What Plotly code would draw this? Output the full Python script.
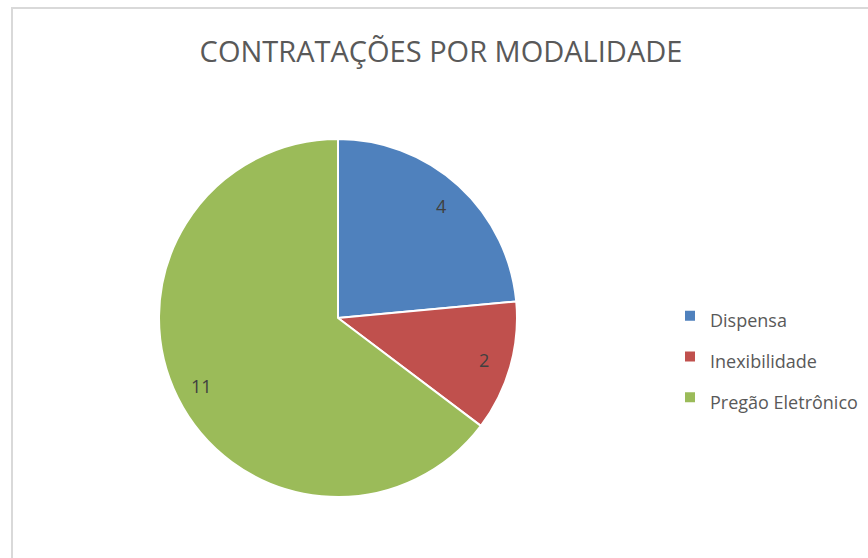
import math
import plotly.graph_objects as go

# Contratações por modalidade
modalidades = ["Dispensa", "Inexibilidade", "Pregão Eletrônico"]
quantidades = [4, 2, 11]
cores = ["#4F81BD", "#C0504D", "#9BBB59"]

titulo = "CONTRATAÇÕES POR MODALIDADE"

W, H = 868, 558
cx, cy, r = 338, 240, 179  # pie centre (from bottom) and radius, in px

fig = go.Figure(
    go.Pie(
        labels=[f"<span style='font-size:18px'>{m}</span>" for m in modalidades],
        values=quantidades,
        sort=False,
        direction="clockwise",
        rotation=0,
        marker=dict(colors=cores, line=dict(color="white", width=2)),
        textinfo="none",
        hoverinfo="label+value+percent",
        domain=dict(x=[(cx - r) / W, (cx + r) / W], y=[(cy - r) / H, (cy + r) / H]),
    )
)

# Value labels placed near the outer edge of each slice, along its mid-angle
total = sum(quantidades)
acum = 0
rotulos = []
for q in quantidades:
    meio = (acum + q / 2) / total * 2 * math.pi
    acum += q
    rr = 0.85 * r
    rotulos.append(
        dict(
            text=str(q),
            x=(cx + rr * math.sin(meio)) / W,
            y=(cy + rr * math.cos(meio)) / H,
            xref="paper",
            yref="paper",
            showarrow=False,
            xanchor="center",
            yanchor="middle",
            font=dict(size=18, color="#404040", family="Open Sans"),
        )
    )

fig.update_layout(
    width=W,
    height=H,
    margin=dict(l=0, r=0, t=0, b=0),
    paper_bgcolor="white",
    plot_bgcolor="white",
    font=dict(family="Open Sans", color="#595959"),
    title=dict(
        text=titulo,
        x=441 / W,
        xanchor="center",
        y=1 - 52 / H,
        yanchor="middle",
        font=dict(size=29, color="#595959", family="Open Sans"),
    ),
    legend=dict(
        x=670 / W,
        xanchor="left",
        y=1 - 357 / H,
        yanchor="middle",
        font=dict(size=29, color="#595959", family="Open Sans"),
        bgcolor="rgba(0,0,0,0)",
    ),
    annotations=rotulos,
    shapes=[
        dict(
            type="rect",
            xref="paper",
            yref="paper",
            x0=12 / W,
            x1=1.1,
            y0=-0.1,
            y1=1 - 8 / H,
            line=dict(color="#D9D9D9", width=2),
            fillcolor="rgba(0,0,0,0)",
            layer="below",
        )
    ],
)

fig.write_html("out.html")
